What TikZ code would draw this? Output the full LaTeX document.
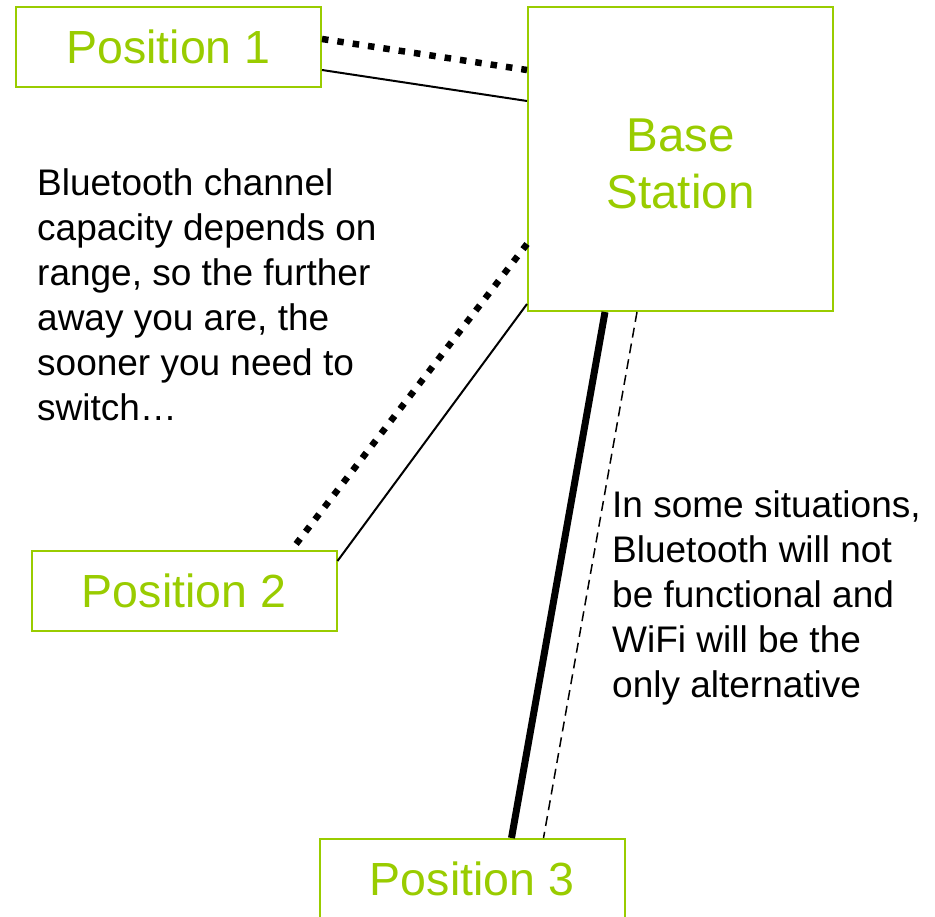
\documentclass[tikz,border=0pt]{standalone}
\usepackage{fontspec}
\setmainfont{Liberation Sans}
\usetikzlibrary{calc}
\definecolor{lime}{RGB}{153,204,0}
\tikzset{
  posbox/.style={draw=lime, line width=2pt, rectangle, minimum width=305pt, minimum height=80pt, inner sep=0pt, text=lime, font=\fontsize{46.5}{55}\selectfont},
  bodytext/.style={anchor=north west, inner sep=0pt, align=left, font=\fontsize{37}{45}\selectfont},
  dotline/.style={line width=6.5pt, dash pattern=on 6.5pt off 9pt},
  thinline/.style={line width=2pt},
  thickline/.style={line width=7pt},
  dashline/.style={line width=1.5pt, dash pattern=on 10pt off 6pt},
}
\begin{document}
\begin{tikzpicture}[x=1pt,y=-1pt]
\useasboundingbox (0,0) rectangle (935,917);
\node[posbox] (p1) at (168.5,47) {Position 1};
\node[posbox, minimum height=304pt] (base) at (680.5,159) {};
\node[inner sep=0pt, align=center, text=lime, font=\fontsize{47.5}{57}\selectfont] (basetext) at ($(base.center)+(0,4.5)$) {Base\\Station};
\node[posbox] (p2) at (184,591) {Position 2};
\node[posbox] (p3) at (472,879) {Position 3};
\node[bodytext] (t1) at (37,168.5) {Bluetooth channel\\capacity depends on\\range, so the further\\away you are, the\\sooner you need to\\switch…};
\node[bodytext] (t2) at (612,490.5) {In some situations,\\Bluetooth will not\\be functional and\\WiFi will be the\\only alternative};
\draw[dotline] ($(p1.north east)+(0,33)$) -- ($(base.north west)+(0,64)$);
\draw[thinline] ($(p1.north east)+(0,64)$) -- ($(base.north west)+(0,95)$);
\draw[dotline] ($(base.south west)+(0,-68)$) -- ($(p2.north east)+(-46,0)$);
\draw[thinline] ($(base.south west)+(0,-8)$) -- ($(p2.north east)+(0,11)$);
\draw[thickline] ($(base.south west)+(78,0)$) -- ($(p3.north west)+(193,0)$);
\draw[dashline] ($(base.south west)+(110,0)$) -- ($(p3.north west)+(225,0)$);
\end{tikzpicture}
\end{document}
